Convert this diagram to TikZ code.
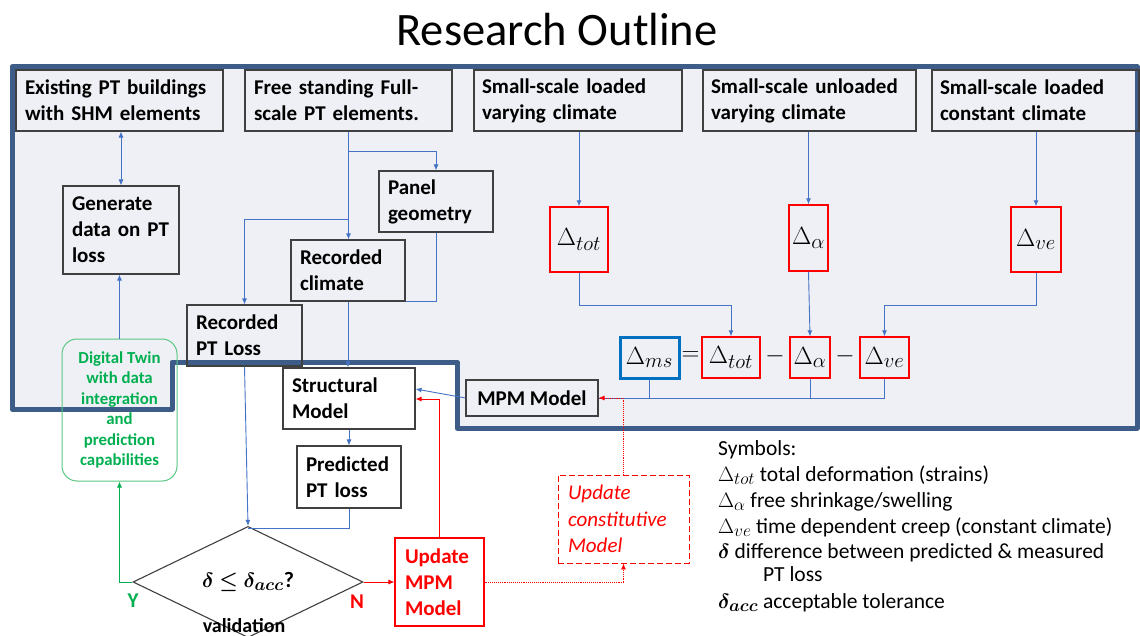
\documentclass[tikz,border=0pt]{standalone}
\usepackage{fontspec}
\usepackage{bm}
\setmainfont{Carlito}
\DeclareMathSizes{25}{25}{20}{15}
\DeclareMathSizes{21.5}{21.5}{16.5}{12}
\DeclareMathSizes{22}{22}{17}{13}
\usetikzlibrary{shapes.geometric,arrows.meta}
\definecolor{bgfill}{RGB}{239,240,245}
\definecolor{framec}{RGB}{62,92,136}
\definecolor{connc}{RGB}{68,114,196}
\definecolor{boxc}{RGB}{64,64,64}
\definecolor{myred}{RGB}{255,0,0}
\definecolor{mygreen}{RGB}{0,176,80}
\definecolor{greenborder}{RGB}{90,200,130}
\definecolor{msblue}{RGB}{0,112,192}
\begin{document}
\begin{tikzpicture}[x=1pt,y=-1pt,
  box/.style={draw=boxc,line width=1.1pt,inner xsep=9pt,inner ysep=0pt,align=left,font=\bfseries\fontsize{21}{26}\selectfont},
  dbox/.style={draw=myred,line width=1.3pt,inner sep=0pt,font=\fontsize{25}{28}\selectfont},
  cn/.style={draw=connc,line width=0.9pt},
  arr/.style={-{Latex[length=6pt,width=5pt]}},
  darr/.style={{Latex[length=6pt,width=5pt]}-{Latex[length=6pt,width=5pt]}},
  rd/.style={draw=myred,line width=0.9pt},
  gr/.style={draw=mygreen,line width=0.9pt},
  symline/.style={anchor=base west,inner sep=0pt,font=\fontsize{21.5}{25}\selectfont},
  valbox/.style={shape=diamond,draw=boxc,line width=1.1pt,inner sep=0pt,minimum width=230pt,minimum height=70pt,font=\fontsize{22}{26}\selectfont}]
\useasboundingbox (0,0) rectangle (1140,636);
\fill[white] (0,0) rectangle (1140,636);
% region
\fill[bgfill] (12,67) -- (1137,67) -- (1137,428) -- (457,428) -- (457,362) -- (172,362) -- (172,409) -- (12,409) -- cycle;
\draw[framec,line width=5pt,line join=round] (12,67) -- (1137,67) -- (1137,428) -- (457,428) -- (457,362) -- (172,362) -- (172,409) -- (12,409) -- cycle;
% title
\node (title) at (557,30) {\fontsize{46.5}{52}\selectfont Research Outline};
% top boxes
\node[box,text width=189pt,minimum height=61pt] (exist) at (119.5,100.5) {Existing~PT~buildings\\with~SHM~elements};
\node[box,text width=189pt,minimum height=61pt] (free) at (348.5,100.5) {Free~standing~Full-\\scale~PT~elements.};
\node[box,inner xsep=8pt,text width=192pt,minimum height=61pt] (ssl) at (578,100.5) {Small-scale~loaded\\varying~climate};
\node[box,inner xsep=8pt,text width=197pt,minimum height=61pt] (ssu) at (809.5,100.5) {Small-scale~unloaded\\varying~climate};
\node[box,inner xsep=8pt,text width=191pt,minimum height=61pt] (ssc) at (1035.5,100.5) {Small-scale~loaded\\constant~climate};
% left/middle boxes
\node[box,text width=98pt,minimum height=88pt] (gen) at (121,230) {Generate\\data~on~PT\\loss};
\node[box,text width=96pt,minimum height=61pt] (panel) at (436,201.5) {Panel\\geometry};
\node[box,text width=96pt,minimum height=61pt] (recclim) at (348,270.5) {Recorded\\climate};
\node[box,text width=97pt,minimum height=61pt] (recpt) at (244.5,335.5) {Recorded\\PT~Loss};
\node[box,text width=114pt,minimum height=61pt] (struct) at (349,398.5) {Structural\\Model};
\node[box,text width=86pt,minimum height=62pt] (pred) at (349,477) {Predicted\\PT~loss};
\node[box,inner xsep=0pt,align=center,minimum width=132pt,minimum height=36pt] (mpm) at (532,398) {MPM~Model};
% red boxes
\node[box,draw=myred,text=myred,inner xsep=10pt,text width=69pt,minimum height=88pt] (umpm) at (439.5,582) {Update\\MPM\\Model};
\node[box,draw=myred,dash pattern=on 6pt off 3pt,text=myred,inner xsep=10pt,text width=111pt,minimum height=88pt,font=\itshape\fontsize{21}{26.5}\selectfont,line width=0.9pt] (ucon) at (623.5,519) {Update\\constitutive\\Model};
% digital twin
\node[draw=greenborder,line width=1pt,rounded corners=15pt,minimum width=115pt,minimum height=142pt,align=center,text=mygreen,font=\bfseries\fontsize{16.8}{20.4}\selectfont] (dt) at (119.5,410) {Digital Twin\\with data\\integration\\and\\prediction\\capabilities};
% validation diamond
\node[valbox] (val) at (248,582) {$\bm{\delta\leq\delta_{acc}}$\textbf{?}};
\node[font=\bfseries\fontsize{20}{24}\selectfont] (vlab) at (244,626) {validation};
\node[font=\bfseries\fontsize{21}{24}\selectfont,text=mygreen] (ylab) at (133,601) {Y};
\node[font=\bfseries\fontsize{21}{24}\selectfont,text=myred] (nlab) at (357,602) {N};
% delta boxes
\node[dbox,minimum width=58pt,minimum height=65pt] (dtot) at (579,239.5) {$\Delta_{tot}$};
\node[dbox,minimum width=39pt,minimum height=66pt] (dal) at (808.5,238) {$\Delta_{\alpha}$};
\node[dbox,minimum width=50pt,minimum height=65pt] (dve) at (1036,239.5) {$\Delta_{ve}$};
\node[dbox,draw=msblue,line width=3pt,minimum width=59pt,minimum height=41pt] (ems) at (649.5,357.5) {$\Delta_{ms}$};
\node[dbox,minimum width=58pt,minimum height=41pt] (etot) at (731,357.5) {$\Delta_{tot}$};
\node[dbox,minimum width=40pt,minimum height=41pt] (eal) at (810,357.5) {$\Delta_{\alpha}$};
\node[dbox,minimum width=49pt,minimum height=41pt] (eve) at (884.5,357.5) {$\Delta_{ve}$};
\node[font=\fontsize{25}{28}\selectfont,inner sep=0pt] (eqs) at (690.5,356) {$=$};
\node[font=\fontsize{25}{28}\selectfont,inner sep=0pt] (mi1) at (775,356) {$-$};
\node[font=\fontsize{25}{28}\selectfont,inner sep=0pt] (mi2) at (845,356) {$-$};
% symbols
\node[symline] (sym0) at (718,455.5) {Symbols:};
\node[symline] (sym1) at (718,481.5) {$\Delta_{tot}$ total deformation (strains)};
\node[symline] (sym2) at (718,507.5) {$\Delta_{\alpha}$ free shrinkage/swelling};
\node[symline] (sym3) at (718,533) {$\Delta_{ve}$ time dependent creep (constant climate)};
\node[symline] (sym4) at (718,558) {$\bm{\delta}$ difference between predicted \& measured};
\node[symline] (sym5) at (763,581.5) {PT loss};
\node[symline] (sym6) at (718,608) {$\bm{\delta_{acc}}$ acceptable tolerance};
% junction coordinates
\coordinate (j151) at (0,151);
\coordinate (j219) at (0,219);
\coordinate (j305) at (0,305);
\coordinate (j3) at (247.6,528);
% connectors
\draw[cn,darr] (gen.north) -- (gen.north |- exist.south);
\draw[cn,arr] (dt.north) -- (dt.north |- gen.south);
\draw[cn,arr] (free.south) -- (free.south |- recclim.north);
\draw[cn,arr] (free.south |- j151) -| (panel.north);
\draw[cn,arr] (free.south |- j219) -| (recpt.north);
\draw[cn] (panel.south) |- (recclim.south east);
\draw[cn,arr] (recclim.south) -- (recclim.south |- struct.north);
\draw[cn,arr] (struct.south) -- (struct.south |- pred.north);
\draw[cn,arr] (recpt.south) -- (val.north);
\draw[cn] (pred.south) |- (j3);
\draw[cn,arr] (ssl.south -| dtot.north) -- (dtot.north);
\draw[cn,arr] (ssu.south -| dal.north) -- (dal.north);
\draw[cn,arr] (ssc.south -| dve.north) -- (dve.north);
\draw[cn,arr] (dtot.south) -- (dtot.south |- j305) -| (etot.north);
\draw[cn,arr] (dal.south) -- (eal.north);
\draw[cn,arr] (dve.south) -- (dve.south |- j305) -| (eve.north);
\draw[cn] (eve.south) |- (mpm.east);
\draw[cn] (ems.south) -- (ems.south |- mpm.east);
\draw[cn] (eal.south) -- (eal.south |- mpm.east);
\draw[cn,arr] (mpm.west) -- ([yshift=9.5pt]struct.east);
\draw[rd,arr] (umpm.north) |- ([yshift=-0.5pt]struct.east);
\draw[rd,arr,densely dotted] (umpm.east) -| (ucon.south);
\draw[rd,arr,densely dotted] (ucon.north) |- (mpm.east);
\draw[gr,arr] (val.west) -| (dt.south);
\draw[rd,arr] (val.east) -- (umpm.west);
\end{tikzpicture}
\end{document}
